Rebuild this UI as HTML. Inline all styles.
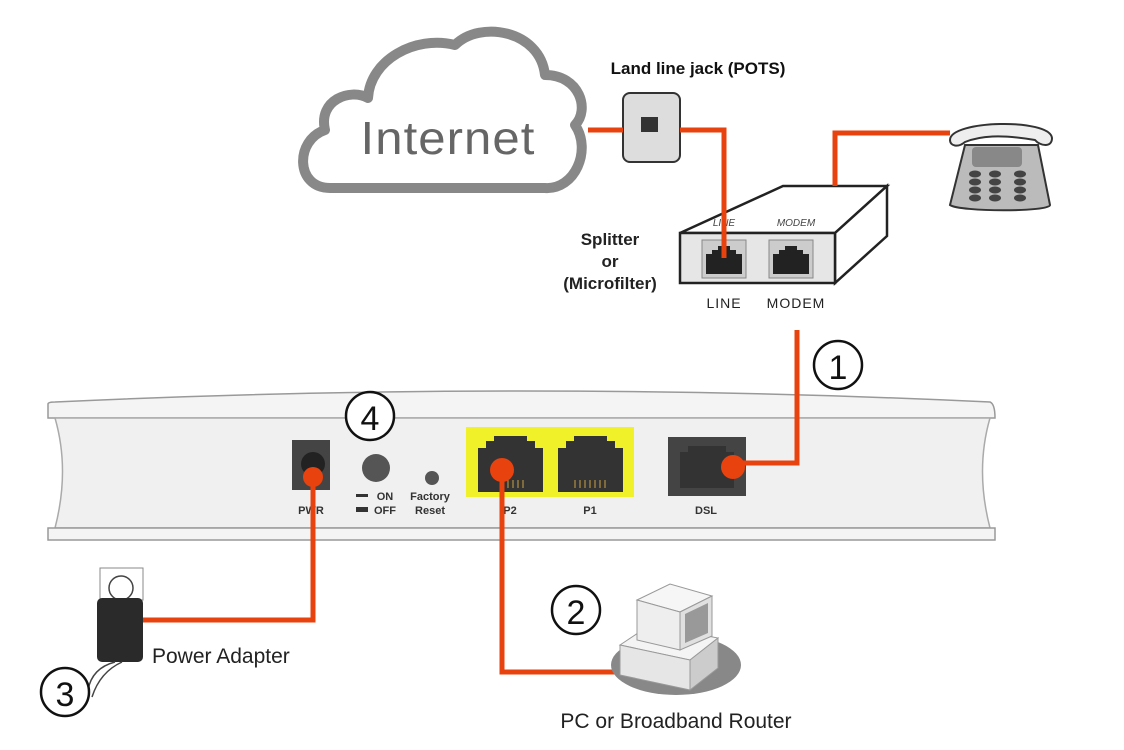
<!DOCTYPE html>
<html><head><meta charset="utf-8"><style>
html,body{margin:0;padding:0;background:#fff;}
svg{display:block;font-family:"Liberation Sans",sans-serif;}
</style></head><body>
<svg width="1124" height="750" viewBox="0 0 1124 750" xmlns="http://www.w3.org/2000/svg">
<!-- Cloud -->
<path d="M330,188 C295,188 295,140 325,130 C318,100 350,88 368,98 C370,60 415,35 455,45 C480,20 540,30 545,75 C580,75 590,110 575,125 C592,150 575,190 545,188 Z" fill="#fff" stroke="#888" stroke-width="10" stroke-linejoin="round"/>
<text x="448" y="154" font-size="46" fill="#666" text-anchor="middle" letter-spacing="1" textLength="175" lengthAdjust="spacingAndGlyphs">Internet</text>
<text x="698" y="74" font-size="17" font-weight="bold" text-anchor="middle" fill="#111">Land line jack (POTS)</text>
<!-- router -->
<path d="M48,404 Q48,402 55,402 Q520,380 990,402 Q995,404 995,418 L48,418 Z" fill="#f4f4f4" stroke="#999" stroke-width="1.5"/>
<path d="M55,418 H990 Q975,470 990,528 H55 Q70,470 55,418 Z" fill="#f0f0f0" stroke="#aaa" stroke-width="1.5"/>
<rect x="48" y="528" width="947" height="12" fill="#f4f4f4" stroke="#999" stroke-width="1.5"/>
<rect x="292" y="440" width="38" height="50" fill="#444"/>
<circle cx="313" cy="464" r="12" fill="#222"/>
<circle cx="376" cy="468" r="14" fill="#555"/>
<circle cx="432" cy="478" r="7" fill="#555"/>
<rect x="466" y="427" width="168" height="70" fill="#f1f12a"/>
<path d="M478,492 V448 H486 V441 H494 V436 H527 V441 H535 V448 H543 V492 Z" fill="#333"/>
<path d="M558,492 V448 H566 V441 H574 V436 H607 V441 H615 V448 H623 V492 Z" fill="#333"/>
<g stroke="#c9a040" stroke-width="1"><path d="M575,480V488M580,480V488M585,480V488M590,480V488M595,480V488M600,480V488M605,480V488"/>
<path d="M508,480V488M513,480V488M518,480V488M523,480V488"/>
<path d="M698,445V452M702,445V452M706,445V452M710,445V452"/></g>
<rect x="668" y="437" width="78" height="59" fill="#444"/>
<path d="M680,488 V452 H688 V446 H726 V452 H734 V488 Z" fill="#333"/>
<g font-size="11" font-weight="bold" fill="#333" text-anchor="middle">
<text x="311" y="514">PWR</text><text x="385" y="500">ON</text><text x="385" y="514">OFF</text>
<text x="430" y="500">Factory</text><text x="430" y="514">Reset</text>
<text x="510" y="514">P2</text><text x="590" y="514">P1</text><text x="706" y="514">DSL</text></g>
<rect x="356" y="494" width="12" height="3" fill="#333"/><rect x="356" y="507" width="12" height="5" fill="#333"/>
<!-- jack -->
<rect x="623" y="93" width="57" height="69" rx="7" fill="#ddd" stroke="#333" stroke-width="2"/>
<rect x="641" y="117" width="17" height="15" fill="#333"/>
<!-- splitter -->
<polygon points="680,233 783,186 887,186 835,233" fill="#fff" stroke="#222" stroke-width="2.5"/>
<polygon points="835,233 887,186 887,236 835,283" fill="#fff" stroke="#222" stroke-width="2.5"/>
<rect x="680" y="233" width="155" height="50" fill="#e6e6e6" stroke="#222" stroke-width="2.5"/>
<rect x="702" y="240" width="44" height="38" fill="#ccc" stroke="#888"/>
<rect x="769" y="240" width="44" height="38" fill="#ccc" stroke="#888"/>
<path d="M706,274 V254 H712 V250 H718 V246 H730 V250 H736 V254 H742 V274 Z" fill="#222"/>
<path d="M773,274 V254 H779 V250 H785 V246 H797 V250 H803 V254 H809 V274 Z" fill="#222"/>
<text x="724" y="226" font-size="10" font-style="italic" fill="#444" text-anchor="middle">LINE</text>
<text x="796" y="226" font-size="10" font-style="italic" fill="#444" text-anchor="middle">MODEM</text>
<text x="724" y="308" font-size="14" fill="#222" text-anchor="middle" letter-spacing="1">LINE</text>
<text x="796" y="308" font-size="14" fill="#222" text-anchor="middle" letter-spacing="1">MODEM</text>
<g font-size="17" font-weight="bold" fill="#222" text-anchor="middle">
<text x="610" y="245">Splitter</text><text x="610" y="267">or</text><text x="610" y="289">(Microfilter)</text></g>
<!-- wires -->
<g fill="none" stroke="#e8420f" stroke-width="5">
<path d="M588,130 H623"/>
<path d="M680,130 H724 V258"/>
<path d="M835,186 V133 H950"/>
<path d="M797,330 V463 H735"/>
<path d="M313,477 V620 H140"/>
<path d="M502,470 V672 H618"/>
</g>
<circle cx="313" cy="477" r="10" fill="#e8420f"/>
<circle cx="502" cy="470" r="12" fill="#e8420f"/>
<circle cx="733" cy="467" r="12" fill="#e8420f"/>
<!-- phone -->
<path d="M950,140 C950,120 1050,118 1052,138 C1052,148 1040,146 1035,140 C1000,134 980,136 965,142 C958,148 950,146 950,140 Z" fill="#eee" stroke="#333" stroke-width="2"/>
<path d="M965,145 H1038 L1050,205 C1050,212 960,212 950,205 Z" fill="#bbb" stroke="#333" stroke-width="2"/>
<rect x="972" y="147" width="50" height="20" rx="4" fill="#888"/>
<g fill="#444"><ellipse cx="975" cy="174" rx="6" ry="3.5"/><ellipse cx="995" cy="174" rx="6" ry="3.5"/><ellipse cx="1020" cy="174" rx="6" ry="3.5"/>
<ellipse cx="975" cy="182" rx="6" ry="3.5"/><ellipse cx="995" cy="182" rx="6" ry="3.5"/><ellipse cx="1020" cy="182" rx="6" ry="3.5"/>
<ellipse cx="975" cy="190" rx="6" ry="3.5"/><ellipse cx="995" cy="190" rx="6" ry="3.5"/><ellipse cx="1020" cy="190" rx="6" ry="3.5"/>
<ellipse cx="975" cy="198" rx="6" ry="3.5"/><ellipse cx="995" cy="198" rx="6" ry="3.5"/><ellipse cx="1020" cy="198" rx="6" ry="3.5"/></g>
<!-- circles -->
<circle cx="838" cy="365" r="24" fill="#fff" stroke="#111" stroke-width="2.5"/>
<text x="838" y="379" font-size="34" text-anchor="middle" fill="#111">1</text>
<circle cx="370" cy="416" r="24" fill="#fff" stroke="#111" stroke-width="2.5"/>
<text x="370" y="430" font-size="34" text-anchor="middle" fill="#111">4</text>
<!-- power adapter -->
<rect x="100" y="568" width="43" height="32" fill="#fff" stroke="#888"/>
<circle cx="121" cy="588" r="12" fill="#fff" stroke="#444" stroke-width="1.5"/>
<rect x="97" y="598" width="46" height="64" rx="5" fill="#2a2a2a"/>
<path d="M88,690 Q92,668 115,662 M92,697 Q100,672 122,662" fill="none" stroke="#444" stroke-width="1.5"/>
<text x="152" y="663" font-size="21" fill="#222">Power Adapter</text>
<circle cx="65" cy="692" r="24" fill="#fff" stroke="#111" stroke-width="2.5"/>
<text x="65" y="706" font-size="34" text-anchor="middle" fill="#111">3</text>
<!-- PC -->
<ellipse cx="676" cy="665" rx="65" ry="30" fill="#888"/>
<polygon points="620,645 650,625 718,638 690,660" fill="#f4f4f4" stroke="#999"/>
<polygon points="620,645 690,660 690,690 620,675" fill="#e6e6e6" stroke="#999"/>
<polygon points="690,660 718,638 718,668 690,690" fill="#ccc" stroke="#999"/>
<polygon points="637,600 670,584 712,596 680,612" fill="#f6f6f6" stroke="#999"/>
<polygon points="637,600 680,612 680,650 637,640" fill="#eee" stroke="#999"/>
<polygon points="680,612 712,596 712,636 680,650" fill="#e0e0e0" stroke="#999"/>
<polygon points="685,614 708,603 708,633 685,643" fill="#999"/>
<circle cx="576" cy="610" r="24" fill="#fff" stroke="#111" stroke-width="2.5"/>
<text x="576" y="624" font-size="34" text-anchor="middle" fill="#111">2</text>
<text x="676" y="728" font-size="21" fill="#222" text-anchor="middle">PC or Broadband Router</text>
</svg>
</body></html>
